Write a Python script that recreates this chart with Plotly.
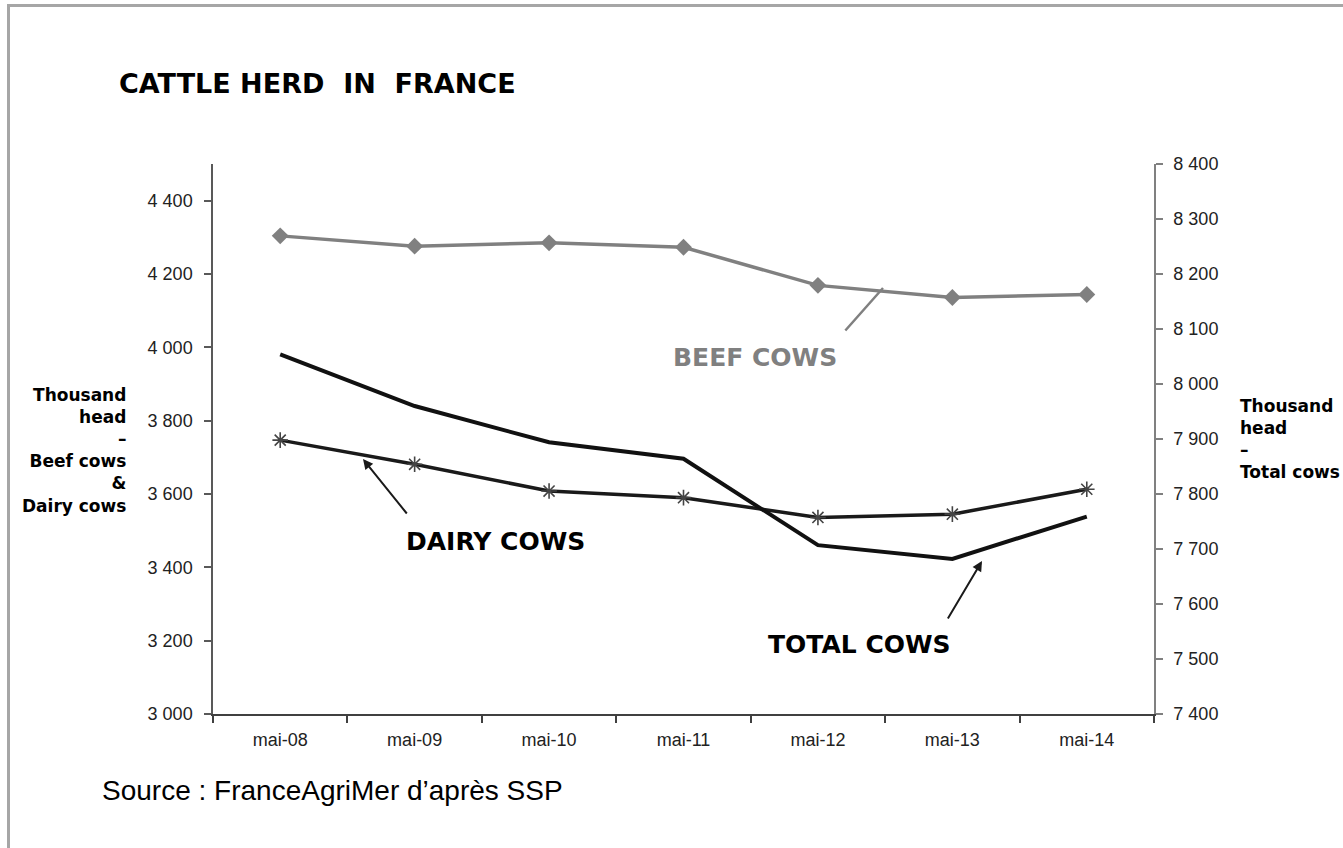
import plotly.graph_objects as go

categories = ["mai-08", "mai-09", "mai-10", "mai-11", "mai-12", "mai-13", "mai-14"]
beef_cows = [4304, 4276, 4285, 4273, 4169, 4136, 4144]
dairy_cows = [3747, 3681, 3608, 3590, 3536, 3545, 3613]
total_cows = [8054, 7960, 7894, 7864, 7707, 7682, 7759]

W, H = 1343, 848
L, R, T, B = 213, 1154, 164, 714  # plot area in pixels
PW, PH = R - L, B - T


def px(x):
    return (x - L) / PW


def py(y):
    return (B - y) / PH


tick_font = dict(family="Liberation Sans, Arial, sans-serif", size=18, color="#222222")
bold = "DejaVu Sans, Verdana, sans-serif"

fig = go.Figure()
fig.add_trace(go.Scatter(
    x=categories, y=beef_cows, mode="lines+markers", name="Beef cows",
    line=dict(color="#808080", width=3.5),
    marker=dict(symbol="diamond", size=13, color="#808080"),
    yaxis="y"))
fig.add_trace(go.Scatter(
    x=categories, y=dairy_cows, mode="lines+markers", name="Dairy cows",
    line=dict(color="#1a1a1a", width=3.5),
    marker=dict(symbol="asterisk-open", size=13, color="#444444",
                line=dict(color="#444444", width=1.6)),
    yaxis="y"))
fig.add_trace(go.Scatter(
    x=categories, y=total_cows, mode="lines", name="Total cows",
    line=dict(color="#111111", width=4),
    yaxis="y2"))

annotations = [
    dict(text="CATTLE HERD\u00a0 IN\u00a0 FRANCE", x=px(117), y=py(84), xref="paper", yref="paper",
         xanchor="left", yanchor="middle", showarrow=False,
         font=dict(family=bold, size=27, color="#000000", weight="bold")),
    dict(text="Source : FranceAgriMer d’après SSP", x=px(100), y=py(790), xref="paper", yref="paper",
         xanchor="left", yanchor="middle", showarrow=False,
         font=dict(family="Liberation Sans, Arial, sans-serif", size=28, color="#000000")),
    dict(text="Thousand<br>head<br>–<br>Beef cows<br>&<br>Dairy cows", x=px(129), y=py(450),
         xref="paper", yref="paper", xanchor="right", yanchor="middle", align="right",
         showarrow=False, font=dict(family=bold, size=17, color="#000000", weight="bold")),
    dict(text="Thousand<br>head<br>–<br>Total cows", x=px(1238), y=py(439),
         xref="paper", yref="paper", xanchor="left", yanchor="middle", align="left",
         showarrow=False, font=dict(family=bold, size=17, color="#000000", weight="bold")),
    dict(text="BEEF COWS", x=px(755), y=py(357), xref="paper", yref="paper",
         xanchor="center", yanchor="middle", showarrow=False,
         font=dict(family=bold, size=25, color="#808080", weight="bold")),
    dict(text="DAIRY COWS", x=px(495), y=py(541), xref="paper", yref="paper",
         xanchor="center", yanchor="middle", showarrow=False,
         font=dict(family=bold, size=25, color="#000000", weight="bold")),
    dict(text="TOTAL COWS", x=px(859), y=py(644), xref="paper", yref="paper",
         xanchor="center", yanchor="middle", showarrow=False,
         font=dict(family=bold, size=25, color="#000000", weight="bold")),
    # pointer lines
    dict(text="", x=px(883), y=py(288), xref="paper", yref="paper", showarrow=True,
         ax=-39, ay=44, arrowhead=0, arrowwidth=2.5, arrowcolor="#808080"),
    dict(text="", x=px(363), y=py(459), xref="paper", yref="paper", showarrow=True,
         ax=45, ay=56, arrowhead=2, arrowsize=1, arrowwidth=2, arrowcolor="#1a1a1a"),
    dict(text="", x=px(982), y=py(561), xref="paper", yref="paper", showarrow=True,
         ax=-35, ay=59, arrowhead=2, arrowsize=1, arrowwidth=2, arrowcolor="#1a1a1a"),
]

shapes = [
    dict(type="rect", xref="paper", yref="paper",
         x0=px(8.5), x1=px(1400), y0=py(900), y1=py(5.5),
         line=dict(color="#a6a6a6", width=3), fillcolor="rgba(0,0,0,0)", layer="below"),
]

fig.update_layout(
    width=W, height=H,
    margin=dict(l=L, r=W - R, t=T, b=H - B, pad=0),
    paper_bgcolor="white", plot_bgcolor="white",
    showlegend=False,
    separators=". ",
    annotations=annotations,
    shapes=shapes,
    xaxis=dict(type="category", range=[-0.5, 6.5], tickson="boundaries",
               ticks="outside", ticklen=7, tickwidth=1.5, tickcolor="#404040",
               showline=True, linecolor="#404040", linewidth=1.5,
               showgrid=False, zeroline=False, tickfont=tick_font,
               ticklabelstandoff=9),
    yaxis=dict(range=[3000, 4500], tick0=3000, dtick=200, tickformat=",d",
               ticks="outside", ticklen=7, tickwidth=1.5, tickcolor="#595959",
               showline=True, linecolor="#595959", linewidth=1.5,
               showgrid=False, zeroline=False, tickfont=tick_font,
               ticklabelstandoff=8),
    yaxis2=dict(range=[7400, 8400], tick0=7400, dtick=100, tickformat=",d",
                overlaying="y", side="right",
                ticks="outside", ticklen=7, tickwidth=1.5, tickcolor="#808080",
                showline=True, linecolor="#808080", linewidth=1.5,
                showgrid=False, zeroline=False, tickfont=tick_font,
                ticklabelstandoff=7),
)

fig.write_html("out.html")
